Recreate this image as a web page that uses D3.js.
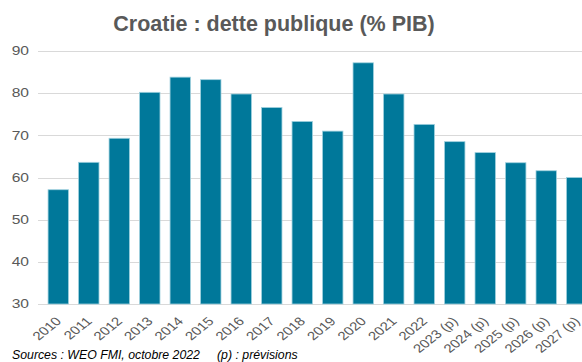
<!doctype html>
<html>
<head>
<meta charset="UTF-8">
<title>Croatie : dette publique</title>
<style>
  body { margin: 0; background: #fff; }
  svg { display: block; font-family: "Liberation Sans", Arial, sans-serif; }
</style>
<script src="https://cdn.jsdelivr.net/npm/d3@7"></script>
</head>
<body>
<svg id="chart" width="582" height="362"></svg>
<script>
// data
var years = ["2010", "2011", "2012", "2013", "2014", "2015", "2016", "2017", "2018",
             "2019", "2020", "2021", "2022", "2023 (p)", "2024 (p)", "2025 (p)", "2026 (p)", "2027 (p)"];
var debt = [57.1, 63.6, 69.3, 80.2, 83.8, 83.2, 79.8, 76.6, 73.3,
            71.0, 87.2, 79.8, 72.6, 68.5, 65.9, 63.5, 61.6, 60.0];
var yTicks = [30, 40, 50, 60, 70, 80, 90];

var svg = d3.select("#chart");

var x = d3.scaleBand()
    .domain(years)
    .range([38, 597])
    .paddingInner(0.33)
    .paddingOuter(0.33);

var y = d3.scaleLinear()
    .domain([30, 90])
    .range([304, 51]);

// gridlines
svg.append("g")
    .selectAll("line")
    .data(yTicks)
    .enter().append("line")
    .attr("x1", 38)
    .attr("x2", 582)
    .attr("y1", function(d) { return Math.round(y(d)) + 0.5; })
    .attr("y2", function(d) { return Math.round(y(d)) + 0.5; })
    .attr("stroke", "#d9d9d9")
    .attr("stroke-width", 1);

// y labels (a bit wide in the original)
svg.append("g")
    .selectAll("text")
    .data(yTicks)
    .enter().append("text")
    .attr("transform", function(d) {
        return "translate(29," + (y(d) + 4.3) + ") scale(1.3,1)";
    })
    .attr("text-anchor", "end")
    .attr("font-size", "12px")
    .attr("fill", "#595959")
    .text(function(d) { return d; });

// bars
svg.append("g")
    .selectAll("rect")
    .data(debt)
    .enter().append("rect")
    .attr("x", function(d, i) { return x(years[i]); })
    .attr("y", function(d) { return y(d); })
    .attr("width", x.bandwidth())
    .attr("height", function(d) { return y(30) - y(d); })
    .attr("fill", "#00789a")
    .attr("stroke", "#9fd0de")
    .attr("stroke-width", 0.8);

// x labels, 45deg but stretched sideways like the original
svg.append("g")
    .selectAll("text")
    .data(years)
    .enter().append("text")
    .attr("transform", function(d) {
        var cx = x(d) + x.bandwidth() / 2 + 4;
        return "translate(" + cx + ",322) scale(1.25,1) rotate(-45)";
    })
    .attr("text-anchor", "end")
    .attr("font-size", "12px")
    .attr("fill", "#595959")
    .text(function(d) { return d; });

// title
svg.append("text")
    .attr("x", 274)
    .attr("y", 31)
    .attr("text-anchor", "middle")
    .attr("font-size", "21.5px")
    .attr("font-weight", "bold")
    .attr("fill", "#595959")
    .text("Croatie : dette publique (% PIB)");

// source
svg.append("text")
    .attr("x", 12)
    .attr("y", 359)
    .attr("font-size", "12.3px")
    .attr("font-style", "italic")
    .attr("fill", "#000")
    .attr("xml:space", "preserve")
    .text("Sources : WEO FMI, octobre 2022     (p) : prévisions");
</script>
</body>
</html>
